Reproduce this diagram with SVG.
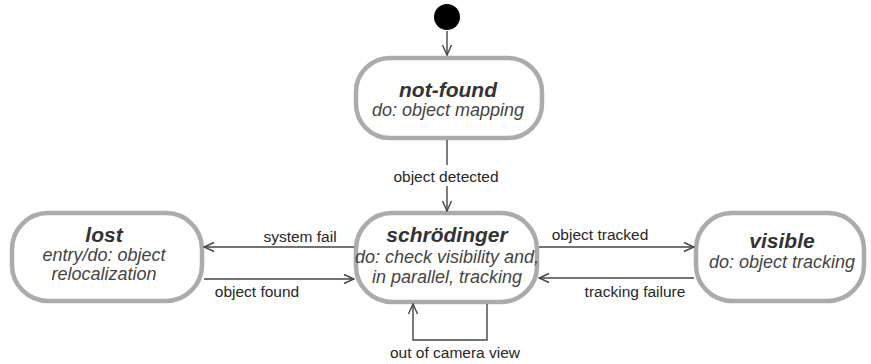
<svg xmlns="http://www.w3.org/2000/svg" width="871" height="364" viewBox="0 0 871 364">
  <style>
    .state { fill: #ffffff; stroke: #ababab; stroke-width: 4.5; }
    .title { font-family: "Liberation Sans", Arial, sans-serif; font-size: 21px; font-weight: bold; font-style: italic; fill: #333333; text-anchor: middle; }
    .body { font-family: "Liberation Sans", Arial, sans-serif; font-size: 18px; font-style: italic; fill: #444444; text-anchor: middle; }
    .label { font-family: "Liberation Sans", Arial, sans-serif; font-size: 15.5px; fill: #262626; text-anchor: middle; }
    .line { fill: none; stroke: #444444; stroke-width: 1.4; }
    .edge { fill: none; stroke: #444444; stroke-width: 1.4; marker-end: url(#open); }
  </style>
  <defs>
    <marker id="open" viewBox="0 0 12 12" refX="11" refY="6" markerWidth="12" markerHeight="12" markerUnits="userSpaceOnUse" orient="auto">
      <path d="M1,1.5 L11,6 L1,10.5" fill="none" stroke="#444444" stroke-width="1.4"/>
    </marker>
  </defs>
  <rect width="871" height="364" fill="#ffffff"/>

  <g id="initial">
    <circle cx="447" cy="17" r="13" fill="#000000"/>
  </g>

  <g id="not-found">
    <rect class="state" x="356" y="58" width="186" height="80" rx="34"/>
    <text class="title" x="448" y="97">not-found</text>
    <text class="body" x="448" y="116">do: object mapping</text>
  </g>

  <g id="schroedinger">
    <rect class="state" x="356" y="213" width="181" height="89" rx="36"/>
    <text class="title" x="447" y="242">schrödinger</text>
    <text class="body" x="447" y="263">do: check visibility and,</text>
    <text class="body" x="447" y="283">in parallel, tracking</text>
  </g>

  <g id="lost">
    <rect class="state" x="12" y="213" width="190" height="88" rx="36"/>
    <text class="title" x="104" y="242">lost</text>
    <text class="body" x="104" y="261">entry/do: object</text>
    <text class="body" x="104" y="280">relocalization</text>
  </g>

  <g id="visible">
    <rect class="state" x="696" y="213" width="168" height="88" rx="36"/>
    <text class="title" x="782" y="248">visible</text>
    <text class="body" x="782" y="268">do: object tracking</text>
  </g>

  <g id="connectors">
    <path class="edge" d="M447,31 L447,55"/>

    <path class="line" d="M447,140 L447,165"/>
    <path class="edge" d="M447,186 L447,211"/>
    <text class="label" x="446" y="182">object detected</text>

    <path class="edge" d="M354,247 L204,247"/>
    <text class="label" x="300" y="242">system fail</text>
    <path class="edge" d="M204,279 L354,279"/>
    <text class="label" x="257" y="297">object found</text>

    <path class="edge" d="M539,247 L694,247"/>
    <text class="label" x="600" y="240">object tracked</text>
    <path class="edge" d="M694,278 L539,278"/>
    <text class="label" x="635" y="297">tracking failure</text>

    <path class="edge" d="M487,304 L487,340 L413,340 L413,304"/>
    <text class="label" x="455" y="358">out of camera view</text>
  </g>
</svg>
